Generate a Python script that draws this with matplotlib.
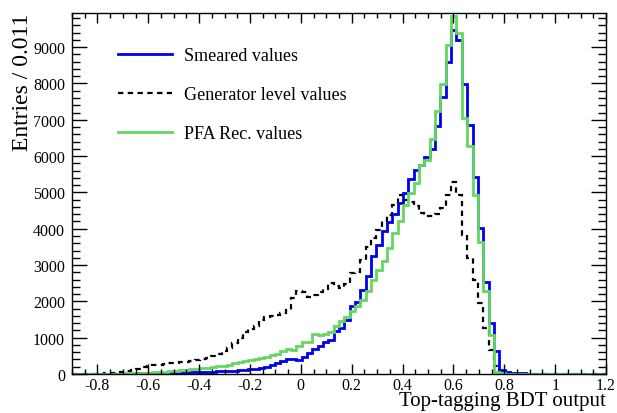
import numpy as np
import matplotlib
matplotlib.use("Agg")
import matplotlib.pyplot as plt
from matplotlib.ticker import MultipleLocator
from matplotlib.lines import Line2D

plt.rcParams['font.family'] = ['Liberation Serif', 'DejaVu Serif']
plt.rcParams['axes.unicode_minus'] = False

# 100 bins between -0.9 and 1.2
edges = np.linspace(-0.9, 1.2, 101)

smeared = [0, 0, 0, 0, 2, 3, 4, 5, 6, 8,
           10, 12, 14, 16, 18, 20, 22, 25, 28, 30,
           34, 38, 42, 48, 55, 60, 65, 70, 78, 85,
           95, 105, 115, 130, 150, 175, 200, 250, 300, 360,
           410, 400, 390, 480, 580, 700, 780, 870, 945, 1175,
           1270, 1500, 1860, 1970, 2320, 2690, 3240, 3560, 3930, 4180,
           4410, 4720, 4980, 5370, 5620, 5760, 5970, 6190, 6820, 7620,
           8580, 9480, 9200, 7980, 6860, 5420, 4020, 2520, 1400, 620,
           110, 50, 30, 20, 15, 10, 5, 5, 4, 3,
           2, 2, 1, 1, 1, 0, 0, 0, 0, 0]

generator = [0, 0, 0, 0, 5, 10, 20, 40, 50, 65,
             90, 120, 130, 180, 230, 240, 260, 280, 300, 310,
             320, 340, 370, 390, 400, 450, 500, 560, 620, 720,
             850, 990, 1150, 1250, 1330, 1500, 1570, 1600, 1630, 1680,
             1750, 2100, 2280, 2250, 2110, 2180, 2250, 2330, 2500, 2420,
             2360, 2480, 2780, 2820, 3150, 3500, 3750, 3970, 4200, 4390,
             4660, 4940, 4800, 4730, 4620, 4430, 4340, 4340, 4400, 4570,
             4940, 5300, 4940, 3830, 3190, 2600, 1950, 1270, 670, 210,
             30, 10, 0, 0, 0, 0, 0, 0, 0, 0,
             0, 0, 0, 0, 0, 0, 0, 0, 0, 0]

pfa = [0, 0, 1, 1, 2, 3, 4, 5, 6, 8,
       20, 24, 28, 33, 40, 50, 58, 66, 75, 88,
       100, 110, 125, 140, 155, 170, 190, 210, 230, 260,
       290, 320, 350, 385, 420, 450, 480, 510, 560, 640,
       700, 650, 780, 870, 880, 1100, 1080, 1100, 1150, 1320,
       1450, 1560, 1730, 1860, 2050, 2280, 2600, 2870, 3100, 3470,
       3880, 4200, 4660, 4980, 5260, 5760, 5900, 6470, 7230, 7980,
       9060, 9850, 9390, 7050, 6270, 4940, 3630, 2290, 1080, 60,
       20, 10, 5, 3, 2, 1, 1, 0, 0, 0,
       0, 0, 0, 0, 0, 0, 0, 0, 0, 0]

labels = ["Smeared values", "Generator level values", "PFA Rec. values"]
col_blue = '#0000ee'
col_green = '#62d862'
dash = (0, (2.4, 2.0))

fig = plt.figure(figsize=(6.17, 4.14), dpi=100)
ax = fig.add_axes([0.1167, 0.0942, 0.8655, 0.8720])

ax.stairs(generator, edges, color='black', lw=1.6, linestyle=dash)
ax.stairs(smeared, edges, color=col_blue, lw=2.0)
ax.stairs(pfa, edges, color=col_green, lw=2.0)

ax.set_xlim(-0.9, 1.2)
ax.set_ylim(0, 9940)

ax.xaxis.set_major_locator(MultipleLocator(0.2))
ax.xaxis.set_minor_locator(MultipleLocator(0.05))
ax.yaxis.set_major_locator(MultipleLocator(1000))
ax.yaxis.set_minor_locator(MultipleLocator(200))
ax.xaxis.set_major_formatter(plt.FuncFormatter(lambda v, p: '%g' % round(v, 2)))

ax.tick_params(which='both', direction='in', top=True, right=True, width=1.0)
ax.tick_params(axis='x', which='major', length=7.2, labelsize=11.5, pad=2.5)
ax.tick_params(axis='x', which='minor', length=3.6)
ax.tick_params(axis='y', which='major', length=10.8, labelsize=11.5, pad=5)
ax.tick_params(axis='y', which='minor', length=5.5)
for s in ax.spines.values():
    s.set_linewidth(1.0)

ax.set_xlabel("Top-tagging BDT output", fontsize=15, loc='right', labelpad=-2)
ax.set_ylabel("Entries / 0.011", fontsize=17, loc='top', labelpad=0)

handles = [Line2D([], [], color=col_blue, lw=2.0),
           Line2D([], [], color='black', lw=1.6, linestyle=dash),
           Line2D([], [], color=col_green, lw=2.0)]
ax.legend(handles, labels, loc='upper left', bbox_to_anchor=(0.086, 0.906),
          frameon=False, fontsize=13, handlelength=3.0, handletextpad=0.67,
          labelspacing=1.22, borderpad=0, borderaxespad=0)

fig.savefig("out.png", dpi=100)
